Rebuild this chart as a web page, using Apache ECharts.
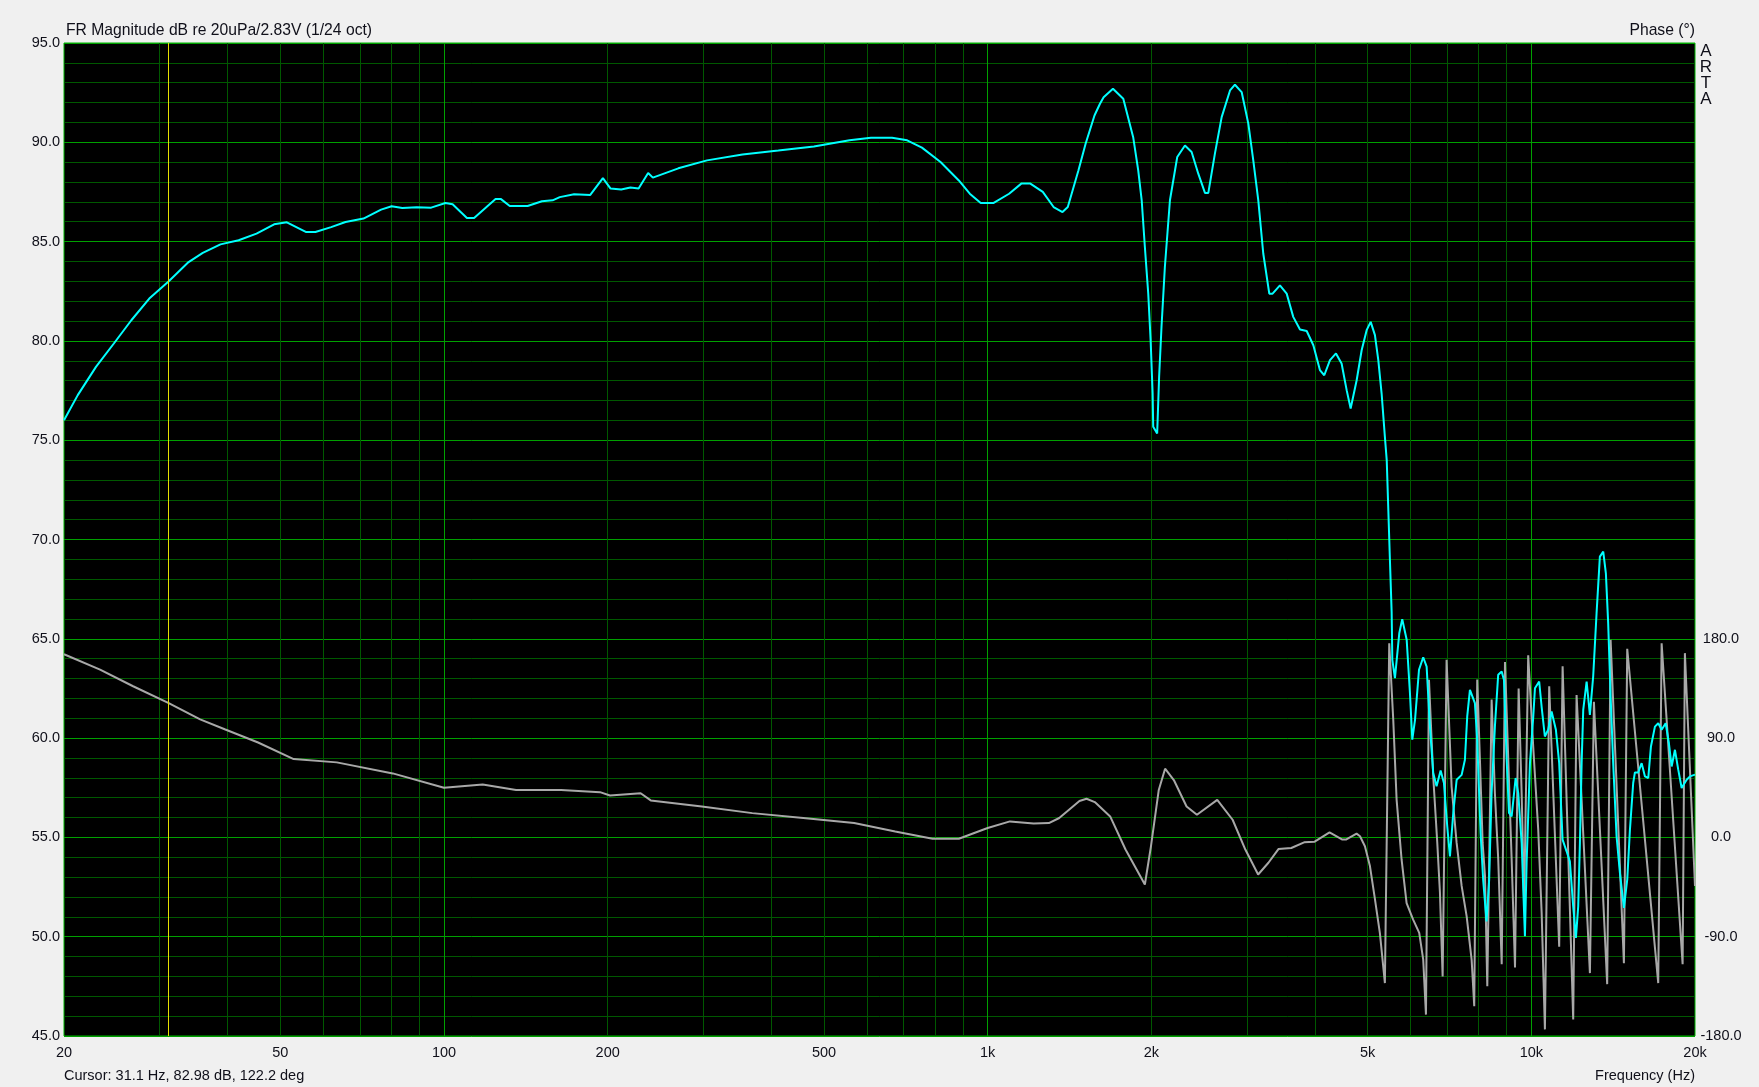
<!DOCTYPE html>
<html><head><meta charset="utf-8">
<script src="https://cdn.jsdelivr.net/npm/echarts@6.0.0/dist/echarts.min.js"></script>
<style>html,body{margin:0;padding:0;background:#f0f0f0;}#chart{width:1759px;height:1087px;}</style>
</head><body><div id="chart"></div>
<script>
// ---- data ----
const magFreq = [20,21.2,22.9,24.7,26.6,28.7,31.1,33.9,36.0,38.8,41.9,45.2,48.7,51.4,55.8,58.0,62.0,65.9,71.1,76.6,80.1,83.8,89.1,94.7,100.6,103.7,110.2,113.6,124.4,127.3,132.1,142.5,151.4,158.4,163.3,173.5,185.8,196,202.5,211.8,220.2,228,237.4,242.2,269.8,304.6,354,412,479,557,610,667,711,757,819,885,927,971,1024,1095,1153,1198,1263,1322,1373,1404,1469,1514,1572,1609,1634,1700,1776,1852,1892,1920,1946,1974,1994,2011,2016,2050,2067,2088,2118,2164,2232,2306,2372,2440,2510,2546,2618,2694,2791,2850,2932,3016,3080,3146,3213,3296,3342,3448,3548,3648,3754,3862,3972,4084,4160,4262,4372,4477,4574,4652,4772,4874,4978,5064,5156,5230,5304,5378,5420,5494,5534,5550,5612,5716,5788,5898,5980,6040,6110,6214,6326,6418,6508,6600,6694,6810,6906,7004,7084,7184,7288,7444,7548,7622,7710,7874,7950,8066,8154,8272,8364,8450,8570,8690,8820,8906,9008,9096,9200,9356,9460,9598,9732,9802,9942,10082,10154,10338,10444,10590,10740,10896,11096,11252,11414,11610,11772,11940,12078,12196,12284,12374,12458,12638,12814,12994,13182,13368,13560,13712,13846,13990,14144,14348,14552,14800,15010,15182,15394,15506,15726,15954,16180,16408,16596,16878,17118,17366,17662,17908,18116,18372,18630,18900,19304,19578,20000];
const magDb = [76.0,77.27,78.69,79.87,81.04,82.13,82.98,83.97,84.43,84.86,85.07,85.40,85.87,85.97,85.48,85.48,85.73,85.99,86.16,86.61,86.78,86.69,86.73,86.71,86.94,86.88,86.19,86.19,87.14,87.14,86.79,86.79,87.03,87.08,87.24,87.38,87.35,88.20,87.67,87.62,87.72,87.67,88.45,88.22,88.69,89.09,89.39,89.59,89.79,90.10,90.23,90.23,90.10,89.73,89.01,88.08,87.41,86.94,86.94,87.41,87.92,87.92,87.50,86.74,86.49,86.74,88.59,89.93,91.35,91.94,92.27,92.70,92.19,90.26,88.59,87.08,84.73,82.38,80.04,77.35,75.68,75.34,78.19,80.70,83.72,87.08,89.26,89.84,89.51,88.42,87.45,87.45,89.43,91.27,92.61,92.90,92.53,90.94,89.09,87.08,84.40,82.38,82.38,82.80,82.38,81.21,80.57,80.50,79.78,78.53,78.27,79.03,79.37,78.86,77.52,76.60,78.02,79.53,80.54,80.96,80.29,79.03,77.35,75.17,74.0,68.96,66.37,63.94,63.02,65.28,65.99,64.95,62.27,59.92,60.92,63.44,64.07,63.60,60.58,58.24,57.57,58.37,57.74,55.55,54.04,56.23,57.90,58.15,58.91,61.09,62.43,61.76,59.92,55.22,52.87,50.77,52.87,57.23,60.58,63.19,63.35,62.93,58.91,56.23,56.06,57.99,57.23,54.72,50.02,53.71,58.74,61.09,62.51,62.85,61.59,60.08,60.42,61.34,60.42,58.74,54.89,54.30,53.79,51.53,49.94,51.53,54.72,58.74,61.42,62.85,61.17,63.10,66.29,69.14,69.39,68.30,65.79,62.10,58.74,55.05,53.21,51.45,52.87,55.38,57.74,58.27,58.27,58.74,58.07,57.99,59.58,60.58,60.75,60.42,60.75,59.74,58.57,59.41,58.41,57.49,57.90,58.07,58.16];
const phaseFreq = [20,23.3,26.8,31.1,35.6,39.5,45.5,52.9,63.5,80.5,100,117.8,135.7,164.2,193.6,202,230,240,298,369,458,568,676,792,885,1000,1099,1215,1296,1354,1475,1520,1574,1680,1793,1946,1997,2064,2120,2200,2322,2426,2644,2822,2978,3144,3284,3426,3618,3820,3988,4254,4492,4560,4770,4840,4942,5048,5156,5266,5378,5478,5572,5652,5772,5896,6062,6220,6326,6400,6482,6600,6714,6790,6868,6984,7134,7288,7444,7604,7766,7852,7952,8044,8136,8218,8298,8452,8570,8692,8820,8944,9070,9200,9332,9476,9598,9700,9868,10080,10296,10446,10592,10786,11252,11416,11940,12112,12816,13034,13788,13990,14800,15010,17116,17364,18978,19162,20000];
const phaseDeg = [166,152,137,122,107,98,86,71,68,58,45,48,43,43,41,38,40,33.5,28,22,17.6,13,5.4,-1.2,-1.2,8.5,14.5,12.5,13,17.6,33,35,32,19,-11,-42.7,-8,43,62.3,52,28,20.5,34,16,-11,-33.6,-23,-10.6,-9.6,-4.5,-4,4.5,-2,-2,3.4,1,-8,-26,-56,-87,-132,176,106.5,34,-20,-59.5,-74.5,-86.6,-110.8,-160.6,142.8,55.2,-5,-50,-126,161,46,-5,-44,-71.5,-111,-153,143,70,-5,-35,-135,125,40,-20,-115,159,70,-20,-118,135,40,-60,165,82,7,-68,-174,137,-99,155,-165,129,-123,123,-133,179,-114,171,-132,176,-115,167,-44];
const freqTickLabels = [20,50,100,200,500,1000,2000,5000,10000,20000];
const freqGridLines = [30,40,50,60,70,80,90,100,200,300,400,500,600,700,800,900,1000,2000,3000,4000,5000,6000,7000,8000,9000,10000];
const dbTickLabels = [45,50,55,60,65,70,75,80,85,90,95];
const phaseTickLabels = [-180,-90,0,90,180];
const cursorFreq = 31.1;
const cursorText = 'Cursor: 31.1 Hz, 82.98 dB, 122.2 deg';

// ---- styles ----
const FONT = '"Liberation Sans", Arial, sans-serif';
const TXT = '#10101a';
const MAJOR = '#00a000';
const MINOR = '#005800';
const FS = 14.5;
const FS_TITLE = 15.7;

const magData = magFreq.map((f, i) => [f, magDb[i]]);
const phaseData = phaseFreq.map((f, i) => [f, phaseDeg[i]]);

const xColors = [MINOR,MINOR,MINOR,MINOR,MINOR,MINOR,MINOR,MAJOR,MINOR];
const yColors = [MAJOR,MINOR,MINOR,MINOR,MINOR];

const chart = echarts.init(document.getElementById('chart'), null, {renderer: 'canvas'});
chart.setOption({
  animation: false,
  backgroundColor: '#f0f0f0',
  textStyle: {fontFamily: FONT},
  grid: {left: 64, top: 43, width: 1631, height: 993, show: true, backgroundColor: '#000', borderColor: '#00b400', borderWidth: 1},
  xAxis: {
    type: 'log', logBase: 10, min: 20, max: 20000,
    axisLine: {show: false},
    axisTick: {show: false, customValues: freqGridLines},
    axisLabel: {customValues: freqTickLabels, color: TXT, fontSize: FS, fontFamily: FONT, margin: 9,
      formatter: v => { v = Math.round(v); return v >= 1000 ? (v / 1000) + 'k' : String(v); }},
    splitLine: {show: true, lineStyle: {color: xColors, width: 1}}
  },
  yAxis: [{
    type: 'value', min: 45, max: 95, interval: 1, position: 'left',
    axisLine: {show: false}, axisTick: {show: false},
    axisLabel: {customValues: dbTickLabels, color: TXT, fontSize: FS, fontFamily: FONT, margin: 4,
      formatter: v => Number(v).toFixed(1)},
    splitLine: {show: true, lineStyle: {color: yColors, width: 1}}
  }, {
    type: 'value', min: -180, max: 720, interval: 90, position: 'right',
    axisLine: {show: false}, axisTick: {show: false},
    axisLabel: {customValues: phaseTickLabels, color: TXT, fontSize: FS, fontFamily: FONT, margin: 26, align: 'center',
      formatter: v => Number(v).toFixed(1)},
    splitLine: {show: false}
  }],
  series: [{
    type: 'line', name: 'phase', yAxisIndex: 1, data: phaseData, showSymbol: false, symbol: 'none',
    lineStyle: {color: '#a8a8a8', width: 2}, silent: true
  }, {
    type: 'line', name: 'magnitude', yAxisIndex: 0, data: magData, showSymbol: false, symbol: 'none',
    lineStyle: {color: '#00ffff', width: 2}, silent: true,
    markLine: {silent: true, symbol: 'none', label: {show: false}, animation: false,
      lineStyle: {color: '#e8e000', width: 1, type: 'solid'},
      data: [{xAxis: cursorFreq}]}
  }],
  graphic: [
    {type: 'text', x: 66, y: 31, style: {text: 'FR Magnitude dB re 20uPa/2.83V (1/24 oct)', fill: TXT, fontSize: FS_TITLE, fontFamily: FONT, align: 'left', verticalAlign: 'middle'}},
    {type: 'text', x: 1695, y: 31, style: {text: 'Phase (°)', fill: TXT, fontSize: FS_TITLE, fontFamily: FONT, align: 'right', verticalAlign: 'middle'}},
    {type: 'text', x: 1706, y: 51, style: {text: 'A', fill: TXT, fontSize: 17, fontFamily: FONT, align: 'center', verticalAlign: 'middle'}},
    {type: 'text', x: 1706, y: 67, style: {text: 'R', fill: TXT, fontSize: 17, fontFamily: FONT, align: 'center', verticalAlign: 'middle'}},
    {type: 'text', x: 1706, y: 83, style: {text: 'T', fill: TXT, fontSize: 17, fontFamily: FONT, align: 'center', verticalAlign: 'middle'}},
    {type: 'text', x: 1706, y: 99, style: {text: 'A', fill: TXT, fontSize: 17, fontFamily: FONT, align: 'center', verticalAlign: 'middle'}},
    {type: 'text', x: 64, y: 1076, style: {text: cursorText, fill: TXT, fontSize: FS, fontFamily: FONT, align: 'left', verticalAlign: 'middle'}},
    {type: 'text', x: 1695, y: 1076, style: {text: 'Frequency (Hz)', fill: TXT, fontSize: FS, fontFamily: FONT, align: 'right', verticalAlign: 'middle'}}
  ]
});
</script>
</body></html>
